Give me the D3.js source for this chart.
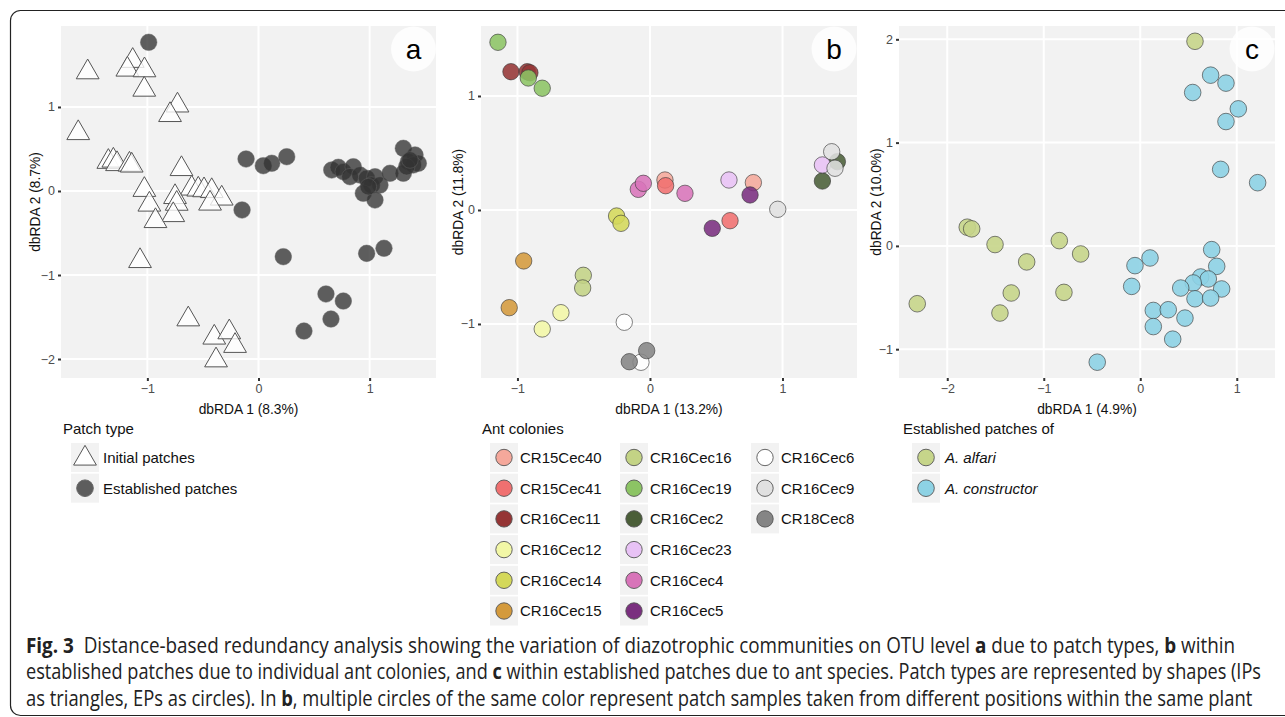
<!DOCTYPE html>
<html><head><meta charset="utf-8">
<script src="https://cdn.jsdelivr.net/npm/d3@7"></script>
<style>
body{margin:0;background:#fff;}
svg{display:block;}
text{font-family:"Liberation Sans",Arial,sans-serif;}
</style></head>
<body>
<svg id="chart" width="1285" height="717"></svg>
<script>
// ---------- DATA ----------
// Panel a: initial patches (triangles)
const aInitialX = [-1.537,-1.132,-1.180,-1.026,-1.028,-0.729,-0.796,-1.622,-1.351,-1.306,-1.273,-1.161,-1.141,-0.693,-1.027,-0.601,-0.542,-0.490,-0.421,-0.331,-0.751,-0.736,-0.767,-0.436,-0.982,-0.927,-1.066,-0.632,-0.398,-0.263,-0.211,-0.382];
const aInitialY = [1.414,1.550,1.446,1.438,1.207,1.019,0.905,0.690,0.348,0.363,0.321,0.315,0.304,0.262,0.014,0.030,0.018,0.010,0.000,-0.089,-0.071,-0.151,-0.286,-0.149,-0.161,-0.357,-0.833,-1.527,-1.744,-1.681,-1.843,-2.015];
// Panel a: established patches (circles)
const aEstX = [-0.988,-0.112,0.043,0.119,0.254,-0.148,0.223,0.973,1.129,0.607,0.763,0.652,0.409,0.659,0.718,0.763,0.853,0.823,0.913,0.973,1.048,1.018,1.093,0.943,1.048,0.988,1.183,1.303,1.408,1.348,1.303,1.438,1.393,1.333,1.363];
const aEstY = [1.770,0.381,0.301,0.330,0.408,-0.226,-0.782,-0.742,-0.682,-1.226,-1.310,-1.524,-1.667,0.250,0.282,0.230,0.289,0.170,0.190,0.151,0.170,0.071,0.071,-0.027,-0.107,0.051,0.211,0.508,0.429,0.349,0.211,0.330,0.310,0.289,0.369];
const aTicksX = [-1,0,1];
const aTicksY = [-2,-1,0,1];

// Panel b: ant colonies
const colonyNames = ["CR15Cec40","CR15Cec41","CR16Cec11","CR16Cec12","CR16Cec14","CR16Cec15","CR16Cec16","CR16Cec19","CR16Cec2","CR16Cec23","CR16Cec4","CR16Cec5","CR16Cec6","CR16Cec9","CR18Cec8"];
const colonyColors = ["#f5a89b","#f07070","#953535","#f2f7a6","#d4d85a","#d49a3c","#c3d385","#8cc464","#4a5e38","#e8c2f5","#d874b9","#7a2f7f","#ffffff","#e0e0e0","#858585"];
const bX = [0.113,0.780, 0.118,0.604, -1.049,-0.926,-0.906, -0.672,-0.813, -0.252,-0.219, -0.953,-1.062, -0.503,-0.508, -1.147,-0.918,-0.813, 1.414,1.301, 0.596,1.301, -0.088,-0.050,0.264, 0.755,0.470, -0.194,-0.068, 0.964,1.371,1.396, -0.156,-0.025];
const bY = [0.263,0.240, 0.213,-0.094, 1.213,1.213,1.204, -0.901,-1.044, -0.053,-0.117, -0.447,-0.857, -0.573,-0.684, 1.471,1.158,1.068, 0.424,0.254, 0.263,0.395, 0.181,0.234,0.146, 0.132,-0.161, -0.985,-1.336, 0.006,0.511,0.366, -1.331,-1.234];
const bColony = [0,0, 1,1, 2,2,2, 3,3, 4,4, 5,5, 6,6, 7,7,7, 8,8, 9,9, 10,10,10, 11,11, 12,12, 13,13,13, 14,14];
const bTicksX = [-1,0,1];
const bTicksY = [-1,0,1];

// Panel c: ant species
const speciesNames = ["A. alfari","A. constructor"];
const speciesColors = ["#c6d58a","#8dd2e4"];
const cX = [0.567,-1.793,-1.747,-1.505,-0.839,-0.618,-1.177,-1.337,-0.791,-1.454,-2.311,
            0.729,0.888,0.543,1.016,0.888,0.833,1.216,0.740,0.792,0.101,-0.055,-0.089,0.626,0.705,0.549,0.419,0.843,0.567,0.729,0.135,0.290,0.463,0.135,0.336,-0.446];
const cY = [1.981,0.181,0.165,0.013,0.051,-0.078,-0.155,-0.456,-0.450,-0.650,-0.560,
            1.653,1.576,1.485,1.327,1.204,0.741,0.612,-0.036,-0.198,-0.117,-0.191,-0.392,-0.301,-0.320,-0.359,-0.408,-0.417,-0.512,-0.505,-0.625,-0.618,-0.699,-0.781,-0.903,-1.126];
const cSpecies = [0,0,0,0,0,0,0,0,0,0,0, 1,1,1,1,1,1,1,1,1,1,1,1,1,1,1,1,1,1,1,1,1,1,1,1,1];
const cTicksX = [-2,-1,0,1];
const cTicksY = [-1,0,1,2];

// ---------- DRAW ----------
const svg = d3.select("#chart");
const fmt = v => (v < 0 ? "\u2212" + Math.abs(v) : String(v));

// outer frame
svg.append("rect").attr("x",10.5).attr("y",10.5).attr("width",1400).attr("height",705)
  .attr("rx",10).attr("fill","none").attr("stroke","#222").attr("stroke-width",1.2);

function panel(cfg){
  const g = svg.append("g");
  const x = d3.scaleLinear().domain(cfg.xd).range([cfg.left, cfg.right]);
  const y = d3.scaleLinear().domain(cfg.yd).range([378, 26]);
  const clipId = "clip" + cfg.id;
  g.append("clipPath").attr("id", clipId).append("rect")
    .attr("x", cfg.left).attr("y", 26).attr("width", cfg.right-cfg.left).attr("height", 352);
  g.append("rect").attr("x", cfg.left).attr("y", 26).attr("width", cfg.right-cfg.left).attr("height", 352).attr("fill","#f2f2f2");
  const grid = g.append("g").attr("clip-path", `url(#${clipId})`);
  grid.selectAll(".gx").data(cfg.tx).join("line").attr("x1",d=>x(d)).attr("x2",d=>x(d)).attr("y1",26).attr("y2",378).attr("stroke","#fff").attr("stroke-width",2);
  grid.selectAll(".gy").data(cfg.ty).join("line").attr("y1",d=>y(d)).attr("y2",d=>y(d)).attr("x1",cfg.left).attr("x2",cfg.right).attr("stroke","#fff").attr("stroke-width",2);
  // axes
  const ax = g.append("g").attr("transform","translate(0,378)")
    .call(d3.axisBottom(x).tickValues(cfg.tx).tickFormat(fmt).tickSize(3).tickPadding(3));
  const ay = g.append("g").attr("transform",`translate(${cfg.left},0)`)
    .call(d3.axisLeft(y).tickValues(cfg.ty).tickFormat(fmt).tickSize(3).tickPadding(3));
  [ax,ay].forEach(a=>{
    a.select(".domain").remove();
    a.selectAll(".tick line").attr("stroke","#333").attr("stroke-width",2);
    a.selectAll(".tick text").attr("fill","#4d4d4d").style("font-size","12.5px").style("font-family","Liberation Sans, Arial, sans-serif");
  });
  // titles
  g.append("text").attr("x",(cfg.left+cfg.right)/2).attr("y",414).attr("text-anchor","middle")
    .style("font-size","13.8px").attr("fill","#111").text(cfg.xt);
  g.append("text").attr("transform",`translate(${cfg.ytx},202) rotate(-90)`).attr("text-anchor","middle")
    .style("font-size","13.8px").attr("fill","#111").text(cfg.yt);
  const pts = g.append("g").attr("clip-path", `url(#${clipId})`);
  cfg.draw(pts, x, y);
  // panel label
  const lab = g.append("g").attr("clip-path", `url(#${clipId})`);
  lab.append("circle").attr("cx",cfg.labX).attr("cy",49).attr("r",22.5).attr("fill","#fff").attr("fill-opacity",0.8);
  g.append("text").attr("x",cfg.labX).attr("y",58.5).attr("text-anchor","middle").style("font-size","28px").attr("fill","#000").text(cfg.label);
}

const tri = d3.symbol().type(d3.symbolTriangle).size(225);

panel({id:"a", left:61, right:436, xd:[-1.777,1.597], yd:[-2.226,1.964], tx:aTicksX, ty:aTicksY,
  xt:"dbRDA 1 (8.3%)", yt:"dbRDA 2 (8.7%)", ytx:39.5, labX:413.5, label:"a",
  draw:(p,x,y)=>{
    p.selectAll(".tri").data(aInitialX.map((v,i)=>[v,aInitialY[i]])).join("path")
      .attr("d",tri).attr("transform",d=>`translate(${x(d[0])},${y(d[1])})`)
      .attr("fill","#fff").attr("fill-opacity",0.8).attr("stroke","#555").attr("stroke-width",1);
    p.selectAll(".est").data(aEstX.map((v,i)=>[v,aEstY[i]])).join("circle")
      .attr("cx",d=>x(d[0])).attr("cy",d=>y(d[1])).attr("r",8.3)
      .attr("fill","#333").attr("fill-opacity",0.78).attr("stroke","#666").attr("stroke-opacity",0.6).attr("stroke-width",0.8);
  }});

panel({id:"b", left:481, right:857, xd:[-1.275,1.562], yd:[-1.474,1.614], tx:bTicksX, ty:bTicksY,
  xt:"dbRDA 1 (13.2%)", yt:"dbRDA 2 (11.8%)", ytx:463, labX:834, label:"b",
  draw:(p,x,y)=>{
    p.selectAll("circle").data(bX.map((v,i)=>[v,bY[i],bColony[i]])).join("circle")
      .attr("cx",d=>x(d[0])).attr("cy",d=>y(d[1])).attr("r",8.2)
      .attr("fill",d=>colonyColors[d[2]]).attr("fill-opacity",0.88).attr("stroke","#3a3a3a").attr("stroke-opacity",0.7).attr("stroke-width",0.9);
  }});

panel({id:"c", left:899, right:1275, xd:[-2.50,1.396], yd:[-1.279,2.129], tx:cTicksX, ty:cTicksY,
  xt:"dbRDA 1 (4.9%)", yt:"dbRDA 2 (10.0%)", ytx:881, labX:1252, label:"c",
  draw:(p,x,y)=>{
    p.selectAll("circle").data(cX.map((v,i)=>[v,cY[i],cSpecies[i]])).join("circle")
      .attr("cx",d=>x(d[0])).attr("cy",d=>y(d[1])).attr("r",8.3)
      .attr("fill",d=>speciesColors[d[1]===undefined?0:d[2]]).attr("fill-opacity",0.9).attr("stroke","#3a3a3a").attr("stroke-opacity",0.7).attr("stroke-width",0.9);
  }});

// ---------- LEGENDS ----------
function legendTitle(x, t){ svg.append("text").attr("x",x).attr("y",434).style("font-size","15px").attr("fill","#111").text(t); }
function keyBox(x, top){ svg.append("rect").attr("x",x).attr("y",top).attr("width",28).attr("height",29).attr("fill","#f2f2f2"); }
function keyText(x, cy, t, italic){ svg.append("text").attr("x",x).attr("y",cy+5.3).style("font-size","15px").style("font-style",italic?"italic":"normal").attr("fill","#111").text(t); }
const rowTop = i => 443 + i*30.7;

legendTitle(63, "Patch type");
keyBox(71, rowTop(0));
svg.append("path").attr("d",tri).attr("transform",`translate(85,${rowTop(0)+15.5})`).attr("fill","#fff").attr("stroke","#555");
keyText(103, rowTop(0)+14.5, "Initial patches");
keyBox(71, rowTop(1));
svg.append("circle").attr("cx",85).attr("cy",rowTop(1)+14.5).attr("r",8.3).attr("fill","#333").attr("fill-opacity",0.78).attr("stroke","#666");
keyText(103, rowTop(1)+14.5, "Established patches");

legendTitle(482, "Ant colonies");
const colX = [490, 620, 751];
colonyNames.forEach((n,i)=>{
  const c = Math.floor(i/6), r = i%6;
  keyBox(colX[c], rowTop(r));
  svg.append("circle").attr("cx",colX[c]+14).attr("cy",rowTop(r)+14.5).attr("r",8.2)
    .attr("fill",colonyColors[i]).attr("stroke","#555").attr("stroke-width",0.9);
  keyText(colX[c]+30, rowTop(r)+14.5, n);
});

legendTitle(903, "Established patches of");
speciesNames.forEach((n,i)=>{
  keyBox(912, rowTop(i));
  svg.append("circle").attr("cx",926).attr("cy",rowTop(i)+14.5).attr("r",8.3)
    .attr("fill",speciesColors[i]).attr("stroke","#555").attr("stroke-width",0.9);
  keyText(945, rowTop(i)+14.5, n, true);
});

// ---------- CAPTION ----------
const captionLines = [
  [["Fig. 3",true],["  Distance-based redundancy analysis showing the variation of diazotrophic communities on OTU level ",false],["a",true],[" due to patch types, ",false],["b",true],[" within",false]],
  [["established patches due to individual ant colonies, and ",false],["c",true],[" within established patches due to ant species. Patch types are represented by shapes (IPs",false]],
  [["as triangles, EPs as circles). In ",false],["b",true],[", multiple circles of the same color represent patch samples taken from different positions within the same plant",false]]
];
const captionBase = [652.5, 679, 705.5];
const captionEnd = [1236, 1262, 1253];
captionLines.forEach((line,i)=>{
  const t = svg.append("text").attr("x",0).attr("y",0).style("font-family","'Open Sans','Noto Sans',sans-serif").style("font-size","21px").attr("fill","#222").attr("xml:space","preserve").style("white-space","pre");
  line.forEach(seg=>t.append("tspan").style("font-weight",seg[1]?"700":"400").text(seg[0]));
  const w = t.node().getComputedTextLength();
  const sx = (captionEnd[i]-26)/w;
  t.attr("transform",`translate(26,${captionBase[i]}) scale(${sx},1)`);
});
</script>
</body></html>
